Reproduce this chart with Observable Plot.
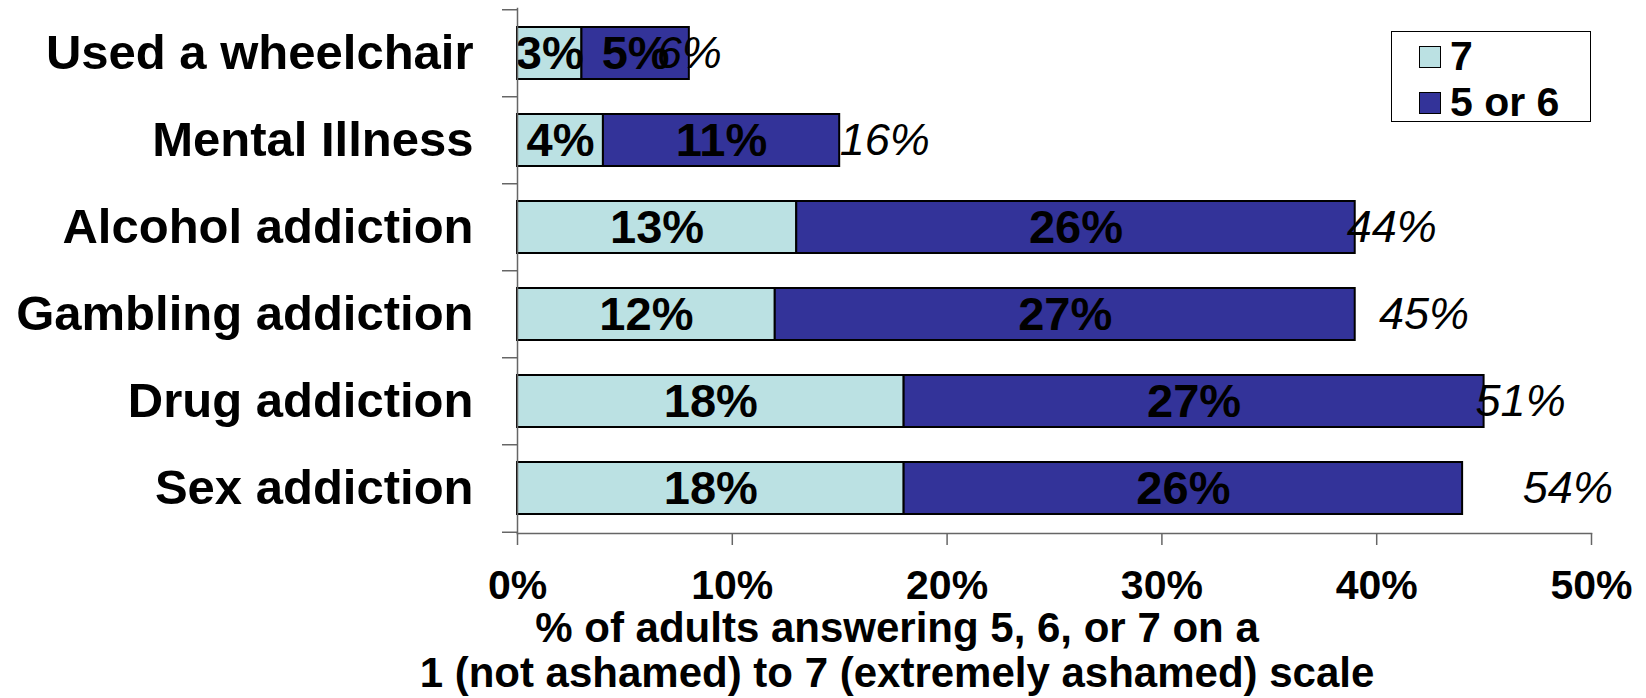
<!DOCTYPE html>
<html>
<head>
<meta charset="utf-8">
<script src="https://cdn.jsdelivr.net/npm/d3@7"></script>
<script src="https://cdn.jsdelivr.net/npm/@observablehq/plot@0.6"></script>
<style>
  html, body { margin: 0; padding: 0; background: #fff; }
  #wrap { position: relative; width: 1646px; height: 698px; overflow: hidden; font-family: "Liberation Sans", Arial, sans-serif; }
  #legend { position: absolute; left: 1391px; top: 31px; width: 200px; height: 91px; border: 1px solid #000; background: #fff; box-sizing: border-box; }
  .lg-row { position: absolute; left: 27px; display: flex; align-items: center; font-weight: bold; font-size: 41px; line-height: 1; }
  .lg-sw { width: 22px; height: 22px; border: 1.5px solid #000; margin-right: 9px; box-sizing: border-box; }
  #caption { position: absolute; left: 0; top: 609px; width: 1794px; text-align: center; font-weight: bold; font-size: 42px; line-height: 38px; color: #000; }
  #caption div + div { margin-top: 7px; }
</style>
</head>
<body>
<div id="wrap">
  <div id="chart"></div>
  <div id="legend"></div>
  <div id="caption"></div>
</div>
<script>
// ---- data ----
const categories = ["Used a wheelchair", "Mental Illness", "Alcohol addiction", "Gambling addiction", "Drug addiction", "Sex addiction"];
const seriesNames = ["7", "5 or 6"];
const values7 = [3, 4, 13, 12, 18, 18];
const values56 = [5, 11, 26, 27, 27, 26];
const totals = [6, 16, 44, 45, 51, 54];
const totalLabelX = [8.0, 17.1, 40.7, 42.2, 46.7, 48.9];
const xTicks = [0, 10, 20, 30, 40, 50];
const colors = ["#BBE1E3", "#333399"];
const captionLines = ["% of adults answering 5, 6, or 7 on a", "1 (not ashamed) to 7 (extremely ashamed) scale"];

// ---- build ----
const long = [];
categories.forEach((c, i) => {
  long.push({cat: c, series: seriesNames[0], value: values7[i]});
  long.push({cat: c, series: seriesNames[1], value: values56[i]});
});
const totalRows = categories.map((c, i) => ({cat: c, total: totals[i], at: totalLabelX[i]}));

const font = "Liberation Sans, Arial, sans-serif";
const W = 1646, H = 610, mTop = 8, mBottom = 77;
const step = (H - mTop - mBottom) / categories.length;

const chart = Plot.plot({
  width: W,
  height: H,
  marginLeft: 517,
  marginRight: 55,
  marginTop: mTop,
  marginBottom: mBottom,
  style: {fontFamily: font, background: "#fff", color: "#000", overflow: "visible"},
  x: {domain: [0, 50], axis: null},
  y: {domain: categories, paddingInner: 0.4, paddingOuter: 0.2, axis: null},
  color: {domain: seriesNames, range: colors},
  marks: [
    Plot.barX(long, Plot.stackX({x: "value", y: "cat", fill: "series", stroke: "#000", strokeWidth: 2})),
    Plot.text(long, Plot.stackX({x: "value", y: "cat", text: d => d.value + "%", fontSize: 47, fontWeight: "bold", fill: "#000", fontFamily: font})),
    Plot.text(totalRows, {x: "at", y: "cat", text: d => d.total + "%", fontSize: 45, fontStyle: "italic", fill: "#000", fontFamily: font}),
    // category labels
    Plot.axisY({anchor: "left", tickSize: 0, tickPadding: 44, fontSize: 49, fontWeight: "bold", fill: "#000", fontFamily: font, label: null}),
    // boundary ticks
    Plot.axisY({anchor: "left", tickSize: 15, text: null, dy: -step / 2, stroke: "#666", strokeWidth: 1.5, label: null}),
    Plot.axisY(categories.slice(-1), {anchor: "left", tickSize: 15, text: null, dy: step / 2, stroke: "#666", strokeWidth: 1.5, label: null}),
    Plot.frame({anchor: "left", stroke: "#666", strokeWidth: 1.5}),
    Plot.frame({anchor: "bottom", stroke: "#666", strokeWidth: 1.5}),
    Plot.axisX({ticks: xTicks, tickFormat: d => d + "%", tickSize: 12, tickPadding: 24, fontSize: 41, fontWeight: "bold", fill: "#000", stroke: "#666", strokeWidth: 1.5, fontFamily: font, label: null})
  ]
});
document.getElementById("chart").appendChild(chart);

// legend
const lg = document.getElementById("legend");
seriesNames.forEach((s, i) => {
  const row = document.createElement("div");
  row.className = "lg-row";
  row.style.top = (i === 0 ? 4 : 50) + "px";
  const sw = document.createElement("div");
  sw.className = "lg-sw";
  sw.style.background = colors[i];
  const t = document.createElement("span");
  t.textContent = s;
  row.appendChild(sw);
  row.appendChild(t);
  lg.appendChild(row);
});

// caption
const cap = document.getElementById("caption");
captionLines.forEach(l => {
  const d = document.createElement("div");
  d.textContent = l;
  cap.appendChild(d);
});
</script>
</body>
</html>
